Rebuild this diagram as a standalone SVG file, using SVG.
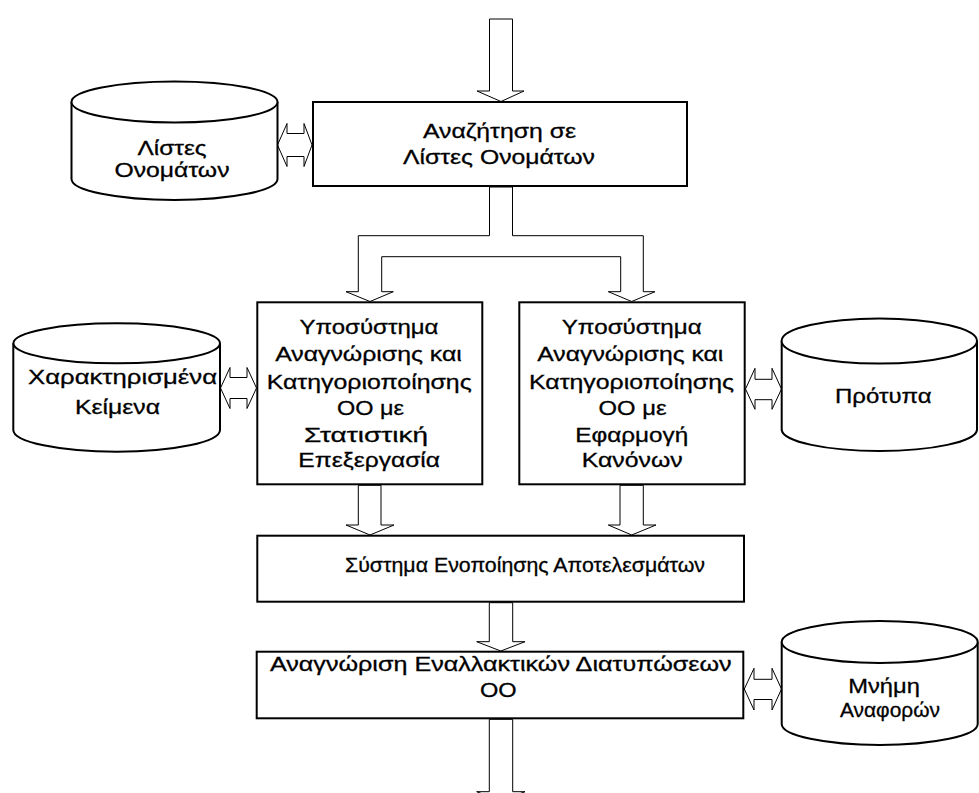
<svg xmlns="http://www.w3.org/2000/svg" width="979" height="793" viewBox="0 0 979 793">
<style>
.box{fill:#fff;stroke:#000;stroke-width:2}
.cyl{fill:#fff;stroke:#000;stroke-width:2}
.arr{fill:#fff;stroke:#000;stroke-width:1;stroke-linejoin:miter}
text{font-family:"Liberation Sans",Arial,sans-serif;font-size:21px;fill:#000;stroke:#000;stroke-width:0.3;text-anchor:middle}
</style>
<rect width="979" height="793" fill="#fff"/>
<g id="connectors">
<polygon class="arr" points="489.5,19 512.5,19 512.5,91 524,91 501,101.5 477,91 489.5,91"/>
<polygon class="arr" points="489.5,187 489.5,235.7 358.3,235.7 358.3,291.7 346,291.7 370,301.5 393.3,291.7 381.7,291.7 381.7,256.7 620.7,256.7 620.7,291.7 608.3,291.7 631.7,301.5 655,291.7 643.3,291.7 643.3,235.7 512.5,235.7 512.5,187"/>
<polygon class="arr" points="358.3,485.3 381,485.3 381,525 394,525 370,535 346,525 358.3,525"/>
<polygon class="arr" points="620,485.3 643.3,485.3 643.3,525 656,525 631.7,535 608.3,525 620,525"/>
<polygon class="arr" points="489.3,602.7 512.7,602.7 512.7,641.7 525,641.7 500.8,651 476.7,641.7 489.3,641.7"/>
<polygon class="arr" points="489.3,719.3 512.7,719.3 512.7,791.7 525,791.7 500.8,801 476.7,791.7 489.3,791.7"/>
<polygon class="arr" points="277.5,145 287,123.5 287,133.5 304,133.5 304,123.5 312,145 304,166.5 304,156.5 287,156.5 287,166.5"/>
<polygon class="arr" points="220.5,388 230,367.5 230,377.5 247,377.5 247,367.5 256.5,388 247,408.5 247,398.5 230,398.5 230,408.5"/>
<polygon class="arr" points="745.5,389 755,368.3 755,379.3 772,379.3 772,368.3 781.5,389 772,409.3 772,399.7 755,399.7 755,409.3"/>
<polygon class="arr" points="744.3,689 754,668.3 754,679.3 772,679.3 772,668.3 781.5,689 772,710 772,699.5 754,699.5 754,710"/>
</g>
<g id="cyl-lists">
<path class="cyl" d="M71.5,102 L71.5,179 A103,21 0 0 0 277.5,179 L277.5,102"/>
<ellipse class="cyl" cx="174.5" cy="102" rx="103" ry="20.5"/>
<text x="172" y="155" textLength="69" lengthAdjust="spacingAndGlyphs">Λίστες</text>
<text x="172" y="177" textLength="115" lengthAdjust="spacingAndGlyphs">Ονομάτων</text>
</g>
<g id="box-search">
<rect class="box" x="313" y="102" width="374" height="84"/>
<text x="499.5" y="137.7" textLength="153" lengthAdjust="spacingAndGlyphs">Αναζήτηση σε</text>
<text x="499" y="164" textLength="192" lengthAdjust="spacingAndGlyphs">Λίστες Ονομάτων</text>
</g>
<g id="cyl-texts">
<path class="cyl" d="M13.3,343.3 L13.3,430 A103.3,21.7 0 0 0 220,430 L220,343.3"/>
<ellipse class="cyl" cx="116.7" cy="343.3" rx="103.3" ry="20"/>
<text x="122.5" y="384.3" textLength="189" lengthAdjust="spacingAndGlyphs">Χαρακτηρισμένα</text>
<text x="117.5" y="414" textLength="85" lengthAdjust="spacingAndGlyphs">Κείμενα</text>
</g>
<g id="box-stat">
<rect class="box" x="257.3" y="302.3" width="225" height="182"/>
<text x="369" y="334.3" textLength="139" lengthAdjust="spacingAndGlyphs">Υποσύστημα</text>
<text x="368.5" y="361" textLength="186.7" lengthAdjust="spacingAndGlyphs">Αναγνώρισης και</text>
<text x="369.2" y="389.3" textLength="205" lengthAdjust="spacingAndGlyphs">Κατηγοριοποίησης</text>
<text x="370.5" y="415" textLength="67" lengthAdjust="spacingAndGlyphs">ΟΟ με</text>
<text x="366" y="441.7" textLength="124" lengthAdjust="spacingAndGlyphs">Στατιστική</text>
<text x="369.2" y="466.7" textLength="141.7" lengthAdjust="spacingAndGlyphs">Επεξεργασία</text>
</g>
<g id="box-rules">
<rect class="box" x="519.3" y="302.3" width="225.4" height="182"/>
<text x="631.7" y="334.3" textLength="140" lengthAdjust="spacingAndGlyphs">Υποσύστημα</text>
<text x="630.3" y="361" textLength="186" lengthAdjust="spacingAndGlyphs">Αναγνώρισης και</text>
<text x="631.5" y="389.3" textLength="205" lengthAdjust="spacingAndGlyphs">Κατηγοριοποίησης</text>
<text x="632.5" y="415" textLength="68" lengthAdjust="spacingAndGlyphs">ΟΟ με</text>
<text x="631.7" y="441.7" textLength="113" lengthAdjust="spacingAndGlyphs">Εφαρμογή</text>
<text x="632.2" y="466.7" textLength="101" lengthAdjust="spacingAndGlyphs">Κανόνων</text>
</g>
<g id="cyl-patterns">
<path class="cyl" d="M781.7,341 L781.7,430 A97.7,21.7 0 0 0 977,430 L977,341"/>
<ellipse class="cyl" cx="879.3" cy="341" rx="97.7" ry="22.5"/>
<text x="883.3" y="403.3" textLength="96.7" lengthAdjust="spacingAndGlyphs">Πρότυπα</text>
</g>
<g id="box-merge">
<rect class="box" x="257.3" y="535.7" width="486.7" height="66"/>
<text x="525" y="571.7" textLength="360" lengthAdjust="spacingAndGlyphs">Σύστημα Ενοποίησης Αποτελεσμάτων</text>
</g>
<g id="box-alt">
<rect class="box" x="256.7" y="651.7" width="486.6" height="66.6"/>
<text x="500.8" y="670.7" textLength="461.7" lengthAdjust="spacingAndGlyphs">Αναγνώριση Εναλλακτικών Διατυπώσεων</text>
<text x="498.3" y="696.7" textLength="36.7" lengthAdjust="spacingAndGlyphs">ΟΟ</text>
</g>
<g id="cyl-memory">
<path class="cyl" d="M781.7,642 L781.7,724 A98,21 0 0 0 977.7,724 L977.7,642"/>
<ellipse class="cyl" cx="879.7" cy="642" rx="98" ry="21"/>
<text x="884" y="693.3" textLength="71.7" lengthAdjust="spacingAndGlyphs">Μνήμη</text>
<text x="890" y="716.7" textLength="100" lengthAdjust="spacingAndGlyphs">Αναφορών</text>
</g>
</svg>
